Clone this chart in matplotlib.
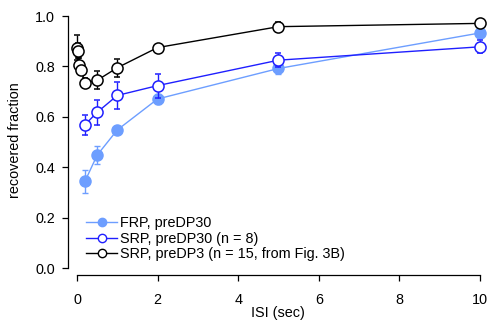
import matplotlib
matplotlib.use("Agg")
import matplotlib.pyplot as plt
from matplotlib.lines import Line2D

plt.rcParams["font.family"] = ["Liberation Sans", "DejaVu Sans"]

# FRP, preDP30 (filled light blue)
frp_x = [0.2, 0.5, 1, 2, 5, 10]
frp_y = [0.345, 0.448, 0.548, 0.671, 0.792, 0.933]
frp_err = [0.046, 0.035, 0.012, 0.02, 0.02, 0.0]

# SRP, preDP30 (open blue)
srp30_x = [0.2, 0.5, 1, 2, 5, 10]
srp30_y = [0.569, 0.618, 0.685, 0.724, 0.825, 0.878]
srp30_err = [0.04, 0.049, 0.052, 0.048, 0.027, 0.026]

# SRP, preDP3 (open black)
srp3_x = [0.01, 0.02, 0.05, 0.1, 0.2, 0.5, 1, 2, 5, 10]
srp3_y = [0.875, 0.862, 0.805, 0.787, 0.735, 0.745, 0.795, 0.875, 0.958, 0.971]
srp3_err = [0.05, 0.03, 0.03, 0.02, 0.02, 0.036, 0.035, 0.01, 0.02, 0.01]

labels = ["FRP, preDP30", "SRP, preDP30 (n = 8)", "SRP, preDP3 (n = 15, from Fig. 3B)"]

c_frp = "#6d9eff"
c_srp30 = "#1f1fff"
c_srp3 = "black"

W, H = 488, 322
fig = plt.figure(figsize=(W / 100, H / 100), dpi=100)
ax = fig.add_axes([68 / W, 47 / H, (W - 68) / W, (275 - 5) / H])

common = dict(capsize=2.5, elinewidth=1.0, capthick=1.0, lw=1.0, marker="o")
ax.errorbar(frp_x, frp_y, yerr=frp_err, color=c_frp, ms=8, mfc=c_frp,
            mec=c_frp, zorder=2, **common)
ax.errorbar(srp30_x, srp30_y, yerr=srp30_err, color=c_srp30, ms=8, mfc="white",
            mec=c_srp30, mew=1.1, zorder=3, **common)
ax.errorbar(srp3_x, srp3_y, yerr=srp3_err, color=c_srp3, ms=8, mfc="white",
            mec=c_srp3, mew=1.1, zorder=4, **common)

ax.set_xlim(-9 / 40.3, 10.2)
ax.set_ylim(-7 / 252, 1.044)
ax.set_xticks([0, 2, 4, 6, 8, 10])
ax.set_yticks([0.0, 0.2, 0.4, 0.6, 0.8, 1.0])
ax.set_yticklabels(["0.0", "0.2", "0.4", "0.6", "0.8", "1.0"])

for s in ["top", "right"]:
    ax.spines[s].set_visible(False)
ax.spines["bottom"].set_bounds(0, 10)
ax.spines["left"].set_bounds(0, 1)
ax.spines["left"].set_linewidth(0.9)
ax.spines["bottom"].set_linewidth(0.9)
ax.tick_params(direction="out", length=4, width=0.9, labelsize=10.4)
ax.tick_params(axis="y", pad=5.5)
ax.tick_params(axis="x", pad=9)

ax.set_xlabel("ISI (sec)", fontsize=10.4, labelpad=-1)
ax.set_ylabel("recovered fraction", fontsize=10.4, labelpad=9)

handles = [
    Line2D([], [], color=c_frp, marker="o", ms=6, mfc=c_frp, mec=c_frp, lw=1.0),
    Line2D([], [], color=c_srp30, marker="o", ms=6, mfc="white", mec=c_srp30, lw=1.0),
    Line2D([], [], color=c_srp3, marker="o", ms=6, mfc="white", mec=c_srp3, lw=1.0),
]
ax.legend(handles, labels, loc="lower left", bbox_to_anchor=(0.03, 0.03),
          frameon=False, fontsize=10.4, handlelength=2.1, handletextpad=0.25,
          labelspacing=0.1, borderaxespad=0)

fig.savefig("out.png", dpi=100)
